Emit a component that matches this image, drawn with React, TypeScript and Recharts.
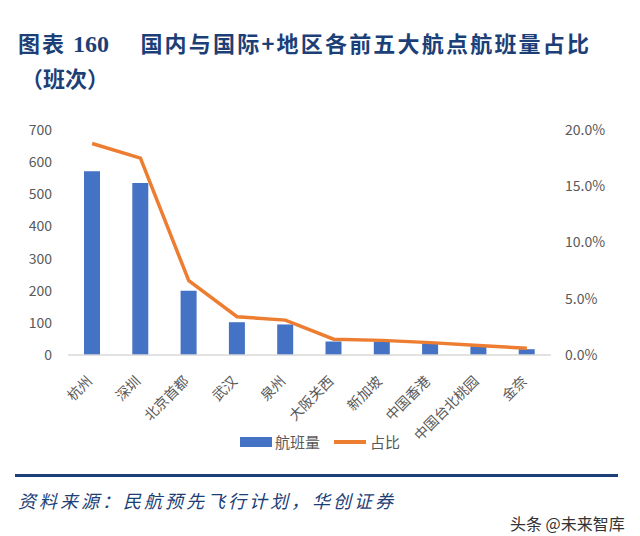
import React from "react";
import { ComposedChart, Bar, Line, XAxis, YAxis, Legend } from "recharts";

const cities = ["杭州", "深圳", "北京首都", "武汉", "泉州", "大阪关西", "新加坡", "中国香港", "中国台北桃园", "金奈"];
const flights = [572, 535, 200, 102, 95, 42, 41, 36, 27, 18];
const shares = [0.188, 0.175, 0.066, 0.034, 0.031, 0.014, 0.013, 0.011, 0.0085, 0.006];
const leftTicks = [0, 100, 200, 300, 400, 500, 600, 700];
const rightTicks = [0, 0.05, 0.1, 0.15, 0.2];

const FONT = '"Noto Sans CJK SC", "Noto Sans", sans-serif';
const NAVY = "#1c3f78";
const BLUE = "#4472c4";
const ORANGE = "#ed7d31";
const GREY = "#595959";

const data = cities.map((c, i) => ({ city: c, flights: flights[i], share: shares[i] }));

// rotated category labels, end of text sits just under the tick
const XTick = (props: any) => {
  const { x, y, payload } = props;
  const ax = x + 1;
  const ay = y + 19;
  return (
    <text x={ax} y={ay} transform={`rotate(-45 ${ax} ${ay})`} textAnchor="end" fill={GREY} fontSize={14} fontFamily={FONT}>
      {payload.value}
    </text>
  );
};

const LegendBox = () => (
  <div style={{ display: "flex", justifyContent: "center", alignItems: "center", fontFamily: FONT, fontSize: 15, color: GREY }}>
    <span style={{ display: "inline-block", width: 32, height: 10, background: BLUE, marginRight: 3 }} />
    <span style={{ marginRight: 14 }}>航班量</span>
    <span style={{ display: "inline-block", width: 32, height: 4, background: ORANGE, marginRight: 4 }} />
    <span>占比</span>
  </div>
);

export default function App() {
  return (
    <div style={{ position: "absolute", left: 0, top: 0, width: 640, height: 536, background: "#fff", fontFamily: FONT }}>
      <div style={{ position: "absolute", left: 18, top: 26, fontSize: 22, fontWeight: 700, color: NAVY, whiteSpace: "nowrap" }}>
        <span style={{ letterSpacing: 2 }}>图表 </span>
        <span style={{ fontFamily: '"Liberation Serif", serif', fontSize: 24 }}>160</span>
        <span style={{ letterSpacing: 2.2 }}>　 国内与国际+地区各前五大航点航班量占比</span>
      </div>
      <div style={{ position: "absolute", left: 21, top: 61, fontSize: 22, fontWeight: 700, color: NAVY, whiteSpace: "nowrap" }}>
        （班次）
      </div>
      <div style={{ position: "absolute", left: 0, top: 110 }}>
        <ComposedChart width={640} height={350} data={data} margin={{ top: 20, right: 0, bottom: 5, left: 0 }}>
          <XAxis
            dataKey="city"
            interval={0}
            height={100}
            tickLine={false}
            axisLine={{ stroke: "#d9d9d9", strokeWidth: 1.5 }}
            tick={<XTick />}
          />
          <YAxis
            yAxisId="left"
            width={68}
            domain={[0, 700]}
            ticks={leftTicks}
            axisLine={false}
            tickLine={false}
            tickMargin={10}
            tick={{ fill: GREY, fontSize: 14, fontFamily: FONT }}
          />
          <YAxis
            yAxisId="right"
            orientation="right"
            width={89}
            domain={[0, 0.2]}
            ticks={rightTicks}
            axisLine={false}
            tickLine={false}
            tickMargin={8}
            tickFormatter={(v: number) => (v * 100).toFixed(1) + "%"}
            tick={{ fill: GREY, fontSize: 14, fontFamily: FONT }}
          />
          <Legend
            layout="horizontal"
            verticalAlign="middle"
            align="center"
            content={<LegendBox />}
            wrapperStyle={{ top: 321, left: 0, width: 640 }}
          />
          <Bar yAxisId="left" dataKey="flights" name="航班量" fill={BLUE} barSize={16} isAnimationActive={false} />
          <Line yAxisId="right" dataKey="share" name="占比" type="linear" stroke={ORANGE} strokeWidth={3.5} dot={false} isAnimationActive={false} />
        </ComposedChart>
      </div>
      <div style={{ position: "absolute", left: 15, top: 474, width: 603, height: 3, background: NAVY }} />
      <div style={{ position: "absolute", left: 18, top: 487, fontSize: 18, fontStyle: "italic", color: NAVY, letterSpacing: 3, whiteSpace: "nowrap" }}>
        资料来源：民航预先飞行计划，华创证券
      </div>
      <div style={{ position: "absolute", left: 510, top: 511, fontSize: 16, color: "#333", whiteSpace: "nowrap" }}>
        头条 @未来智库
      </div>
    </div>
  );
}
